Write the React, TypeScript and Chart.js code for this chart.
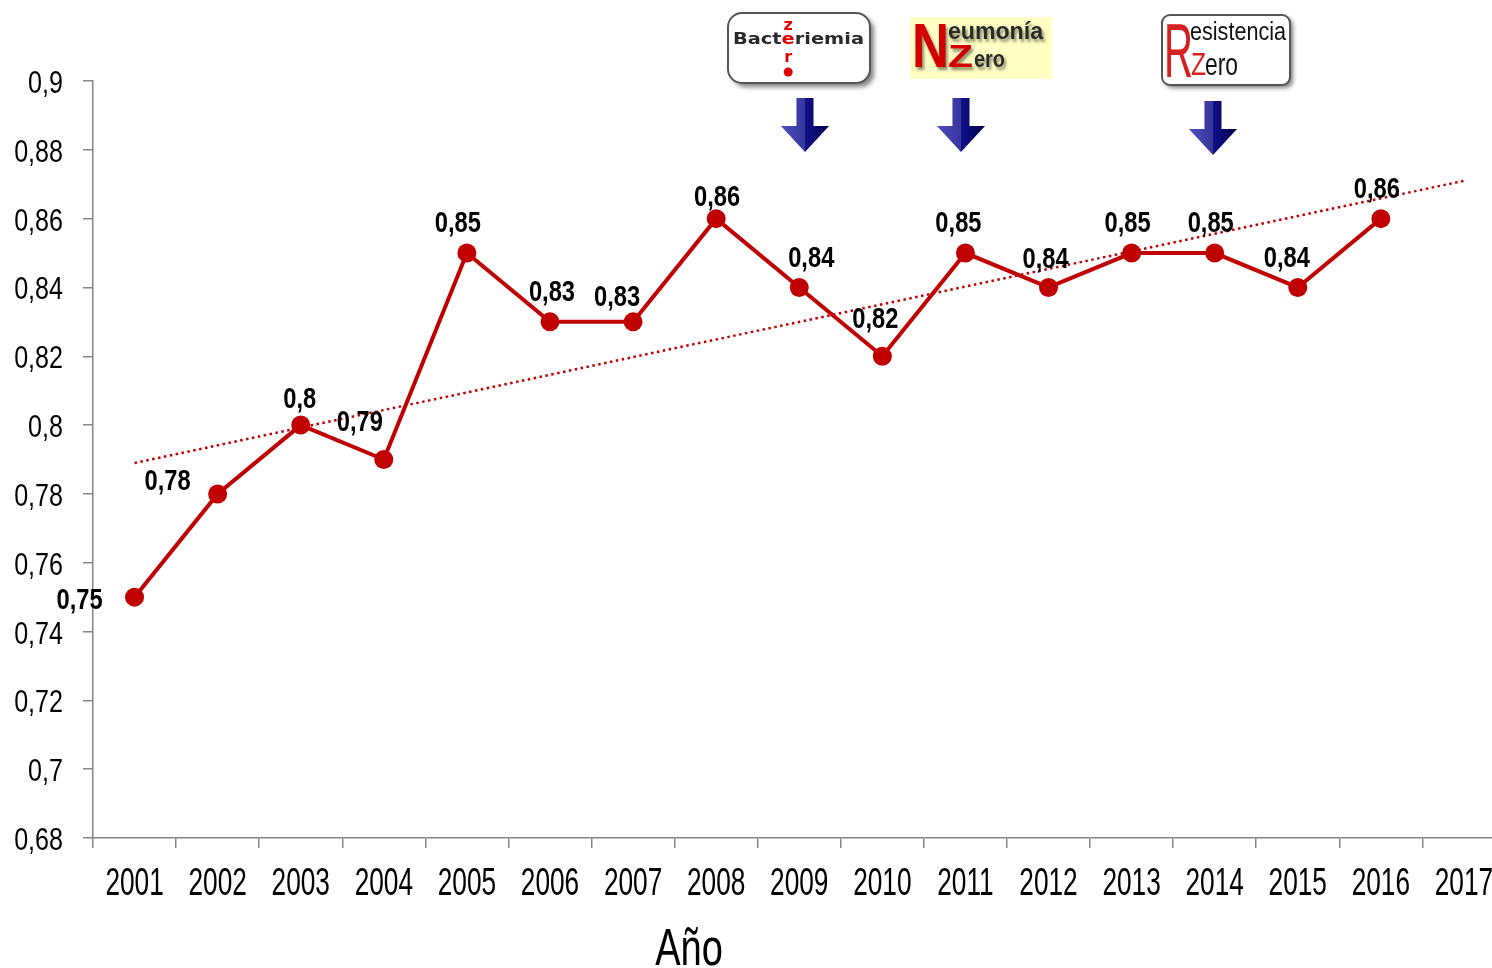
import React, { useEffect, useRef } from "react";
import { Chart, registerables } from "chart.js";

Chart.register(...registerables);

const years = ["2001","2002","2003","2004","2005","2006","2007","2008","2009","2010","2011","2012","2013","2014","2015","2016","2017"];
const values: (number | null)[] = [0.75,0.78,0.80,0.79,0.85,0.83,0.83,0.86,0.84,0.82,0.85,0.84,0.85,0.85,0.84,0.86,null];
const valueLabels = ["0,75","0,78","0,8","0,79","0,85","0,83","0,83","0,86","0,84","0,82","0,85","0,84","0,85","0,85","0,84","0,86"];
// trend line endpoints
const trendValues: (number | null)[] = [0.789,null,null,null,null,null,null,null,null,null,null,null,null,null,null,null,0.871];

const yMin = 0.68;
const yMax = 0.9;
const yStep = 0.02;

// label offsets (px) of the label's visual centre relative to the point
const labelOffsets: [number, number][] = [
  [-55, 1],[-50,-14],[-1,-28],[-24,-39],[-9,-32],[2,-31],[-16,-26],[1,-23],
  [12,-31],[-7,-39],[-7,-32],[-3,-30],[-4,-32],[-4,-32],[-11,-31],[-4,-31],
];

const SANS = '"Liberation Sans", Arial, sans-serif';
const RED = "#c00000";
const AXIS = "#868686";

function drawScaled(
  ctx: CanvasRenderingContext2D, text: string, x: number, y: number,
  sx: number, align: CanvasTextAlign = "left"
) {
  ctx.save();
  ctx.translate(x, y);
  ctx.scale(sx, 1);
  ctx.textAlign = align;
  ctx.fillText(text, 0, 0);
  ctx.restore();
}

function fitText(ctx: CanvasRenderingContext2D, text: string, x: number, y: number, maxW: number) {
  const w = ctx.measureText(text).width;
  drawScaled(ctx, text, x, y, maxW / w, "left");
}

function drawArrow(ctx: CanvasRenderingContext2D, cx: number, top: number) {
  const g = ctx.createLinearGradient(cx - 24, 0, cx + 24, 0);
  g.addColorStop(0, "#2c2cb8");
  g.addColorStop(0.5, "#10108a");
  g.addColorStop(1, "#00004c");
  ctx.save();
  ctx.fillStyle = g;
  ctx.beginPath();
  ctx.moveTo(cx - 8.5, top);
  ctx.lineTo(cx + 8.5, top);
  ctx.lineTo(cx + 8.5, top + 28);
  ctx.lineTo(cx + 24, top + 28);
  ctx.lineTo(cx, top + 54);
  ctx.lineTo(cx - 24, top + 28);
  ctx.lineTo(cx - 8.5, top + 28);
  ctx.closePath();
  ctx.fill();
  ctx.fillStyle = "rgba(255,255,255,0.16)";
  ctx.beginPath();
  ctx.moveTo(cx - 8.5, top);
  ctx.lineTo(cx, top);
  ctx.lineTo(cx, top + 54);
  ctx.lineTo(cx - 24, top + 28);
  ctx.lineTo(cx - 8.5, top + 28);
  ctx.closePath();
  ctx.fill();
  ctx.restore();
}

const axisLabelPlugin = {
  id: "axisLabels",
  afterDraw(chart: any) {
    const ctx: CanvasRenderingContext2D = chart.ctx;
    const xs = chart.scales.x;
    const ys = chart.scales.y;
    ctx.save();
    ctx.fillStyle = "#000";
    ctx.textBaseline = "alphabetic";
    // y tick labels
    ctx.font = "31px " + SANS;
    ys.ticks.forEach((t: any) => {
      const y = ys.getPixelForValue(t.value);
      const txt = String(Number(Number(t.value).toFixed(2))).replace(".", ",");
      drawScaled(ctx, txt, ys.right - 30, y + 12, 0.81, "right");
    });
    // x tick labels
    ctx.font = "38px " + SANS;
    years.forEach((yr, i) => {
      const x = xs.getPixelForValue(i);
      drawScaled(ctx, yr, x, xs.top + 57, 0.69, "center");
    });
    // axis title
    ctx.font = "52px " + SANS;
    drawScaled(ctx, "Año", 689, 965, 0.73, "center");
    ctx.restore();
  },
};

const logosPlugin = {
  id: "logos",
  afterDraw(chart: any) {
    const ctx: CanvasRenderingContext2D = chart.ctx;
    ctx.save();
    ctx.textBaseline = "alphabetic";
    ctx.textAlign = "left";

    // Bacteriemia Zero
    ctx.save();
    ctx.shadowColor = "rgba(0,0,0,0.5)";
    ctx.shadowOffsetX = 4;
    ctx.shadowOffsetY = 4;
    ctx.shadowBlur = 5;
    ctx.fillStyle = "#ffffff";
    ctx.beginPath();
    (ctx as any).roundRect(728, 13, 142, 70, 14);
    ctx.fill();
    ctx.restore();
    ctx.strokeStyle = "#555";
    ctx.lineWidth = 2;
    ctx.beginPath();
    (ctx as any).roundRect(728, 13, 142, 70, 14);
    ctx.stroke();
    ctx.font = 'bold 16px "DejaVu Sans", sans-serif';
    const parts = ["Bact", "e", "riemia"];
    const total = parts.reduce((a, p) => a + ctx.measureText(p).width, 0);
    const sx = 131 / total;
    let px = 733;
    let eCenter = 0;
    parts.forEach((p, i) => {
      const w = ctx.measureText(p).width;
      ctx.fillStyle = i === 1 ? "#e00000" : "#2a2a2a";
      drawScaled(ctx, p, px, 44, sx, "left");
      if (i === 1) eCenter = px + (w * sx) / 2;
      px += w * sx;
    });
    ctx.fillStyle = "#e00000";
    ctx.textAlign = "center";
    ctx.fillText("z", eCenter, 30);
    ctx.fillText("r", eCenter, 62);
    ctx.beginPath();
    ctx.arc(eCenter, 72, 4.5, 0, Math.PI * 2);
    ctx.fill();
    ctx.textAlign = "left";

    // Neumonía Zero
    ctx.fillStyle = "#ffffc4";
    ctx.fillRect(910, 17, 142, 62);
    ctx.save();
    ctx.shadowColor = "rgba(0,0,0,0.45)";
    ctx.shadowOffsetX = 2;
    ctx.shadowOffsetY = 3;
    ctx.shadowBlur = 3;
    ctx.fillStyle = "#d40000";
    ctx.font = "bold 63px " + SANS;
    fitText(ctx, "N", 912, 67, 37);
    ctx.font = "bold 32px " + SANS;
    fitText(ctx, "Z", 948, 67, 25);
    ctx.fillStyle = "#2a2a2a";
    ctx.font = "bold 23px " + SANS;
    fitText(ctx, "eumonía", 948, 39, 95);
    ctx.font = "bold 24px " + SANS;
    fitText(ctx, "ero", 974, 67, 31);
    ctx.restore();

    // Resistencia Zero
    ctx.save();
    ctx.shadowColor = "rgba(0,0,0,0.5)";
    ctx.shadowOffsetX = 3;
    ctx.shadowOffsetY = 3;
    ctx.shadowBlur = 4;
    ctx.fillStyle = "#ffffff";
    ctx.beginPath();
    (ctx as any).roundRect(1162, 15, 128, 70, 8);
    ctx.fill();
    ctx.restore();
    ctx.strokeStyle = "#555";
    ctx.lineWidth = 2;
    ctx.beginPath();
    (ctx as any).roundRect(1162, 15, 128, 70, 8);
    ctx.stroke();
    ctx.fillStyle = "#d42020";
    ctx.font = "76px " + SANS;
    fitText(ctx, "R", 1164, 77, 29);
    ctx.font = "32px " + SANS;
    fitText(ctx, "Z", 1191, 75, 15);
    ctx.fillStyle = "#111";
    ctx.font = "25px " + SANS;
    fitText(ctx, "esistencia", 1190, 40, 96);
    ctx.font = "32px " + SANS;
    fitText(ctx, "ero", 1205, 75, 33);

    // arrows
    drawArrow(ctx, 805, 98);
    drawArrow(ctx, 961, 98);
    drawArrow(ctx, 1213, 101);
    ctx.restore();
  },
};

const valueLabelPlugin = {
  id: "valueLabels",
  afterDatasetsDraw(chart: any) {
    const ctx: CanvasRenderingContext2D = chart.ctx;
    const meta = chart.getDatasetMeta(1);
    ctx.save();
    ctx.font = "bold 30px " + SANS;
    ctx.fillStyle = "#000";
    ctx.textBaseline = "alphabetic";
    valueLabels.forEach((t, i) => {
      const el = meta.data[i];
      if (!el) return;
      const [dx, dy] = labelOffsets[i];
      drawScaled(ctx, t, el.x + dx, el.y + dy + 10.5, 0.79, "center");
    });
    ctx.restore();
  },
};

export default function App() {
  const ref = useRef<HTMLCanvasElement | null>(null);
  useEffect(() => {
    if (!ref.current) return;
    const chart = new Chart(ref.current, {
      type: "line",
      data: {
        labels: years,
        datasets: [
          {
            label: "Tendencia",
            data: trendValues,
            borderColor: RED,
            borderWidth: 2.5,
            borderDash: [2.5, 3.5],
            pointRadius: 0,
            spanGaps: true,
            fill: false,
          },
          {
            label: "Valor",
            data: values,
            borderColor: RED,
            backgroundColor: RED,
            borderWidth: 4,
            pointRadius: 9.5,
            pointBackgroundColor: RED,
            pointBorderColor: RED,
            pointBorderWidth: 0,
            fill: false,
            tension: 0,
          },
        ],
      },
      options: {
        responsive: false,
        animation: false,
        layout: { padding: { top: 81, right: 5, left: 0, bottom: 0 } },
        plugins: {
          legend: { display: false },
          tooltip: { enabled: false },
          title: { display: false },
        },
        scales: {
          x: {
            type: "category",
            offset: true,
            grid: {
              offset: true,
              drawOnChartArea: false,
              drawTicks: true,
              tickLength: 10,
              color: AXIS,
              lineWidth: 1.5,
            },
            border: { color: AXIS, width: 1.5 },
            ticks: {
              color: "rgba(0,0,0,0)",
              font: { size: 6 },
              maxRotation: 0,
              autoSkip: false,
            },
            afterFit: (s: any) => { s.height = 130; },
          },
          y: {
            min: yMin,
            max: yMax,
            grid: {
              drawOnChartArea: false,
              drawTicks: true,
              tickLength: 10,
              color: AXIS,
              lineWidth: 1.5,
            },
            border: { color: AXIS, width: 1.5 },
            ticks: {
              stepSize: yStep,
              color: "rgba(0,0,0,0)",
              font: { size: 6 },
              padding: 20,
            },
            afterFit: (s: any) => { s.width = 93; },
          },
        },
      },
      plugins: [valueLabelPlugin, axisLabelPlugin, logosPlugin],
    });
    return () => chart.destroy();
  }, []);
  return (
    <div style={{ position: "fixed", left: 0, top: 0, width: 1492, height: 968, overflow: "hidden", background: "#fff" }}>
      <canvas ref={ref} width={1515} height={968} style={{ display: "block" }} />
    </div>
  );
}
